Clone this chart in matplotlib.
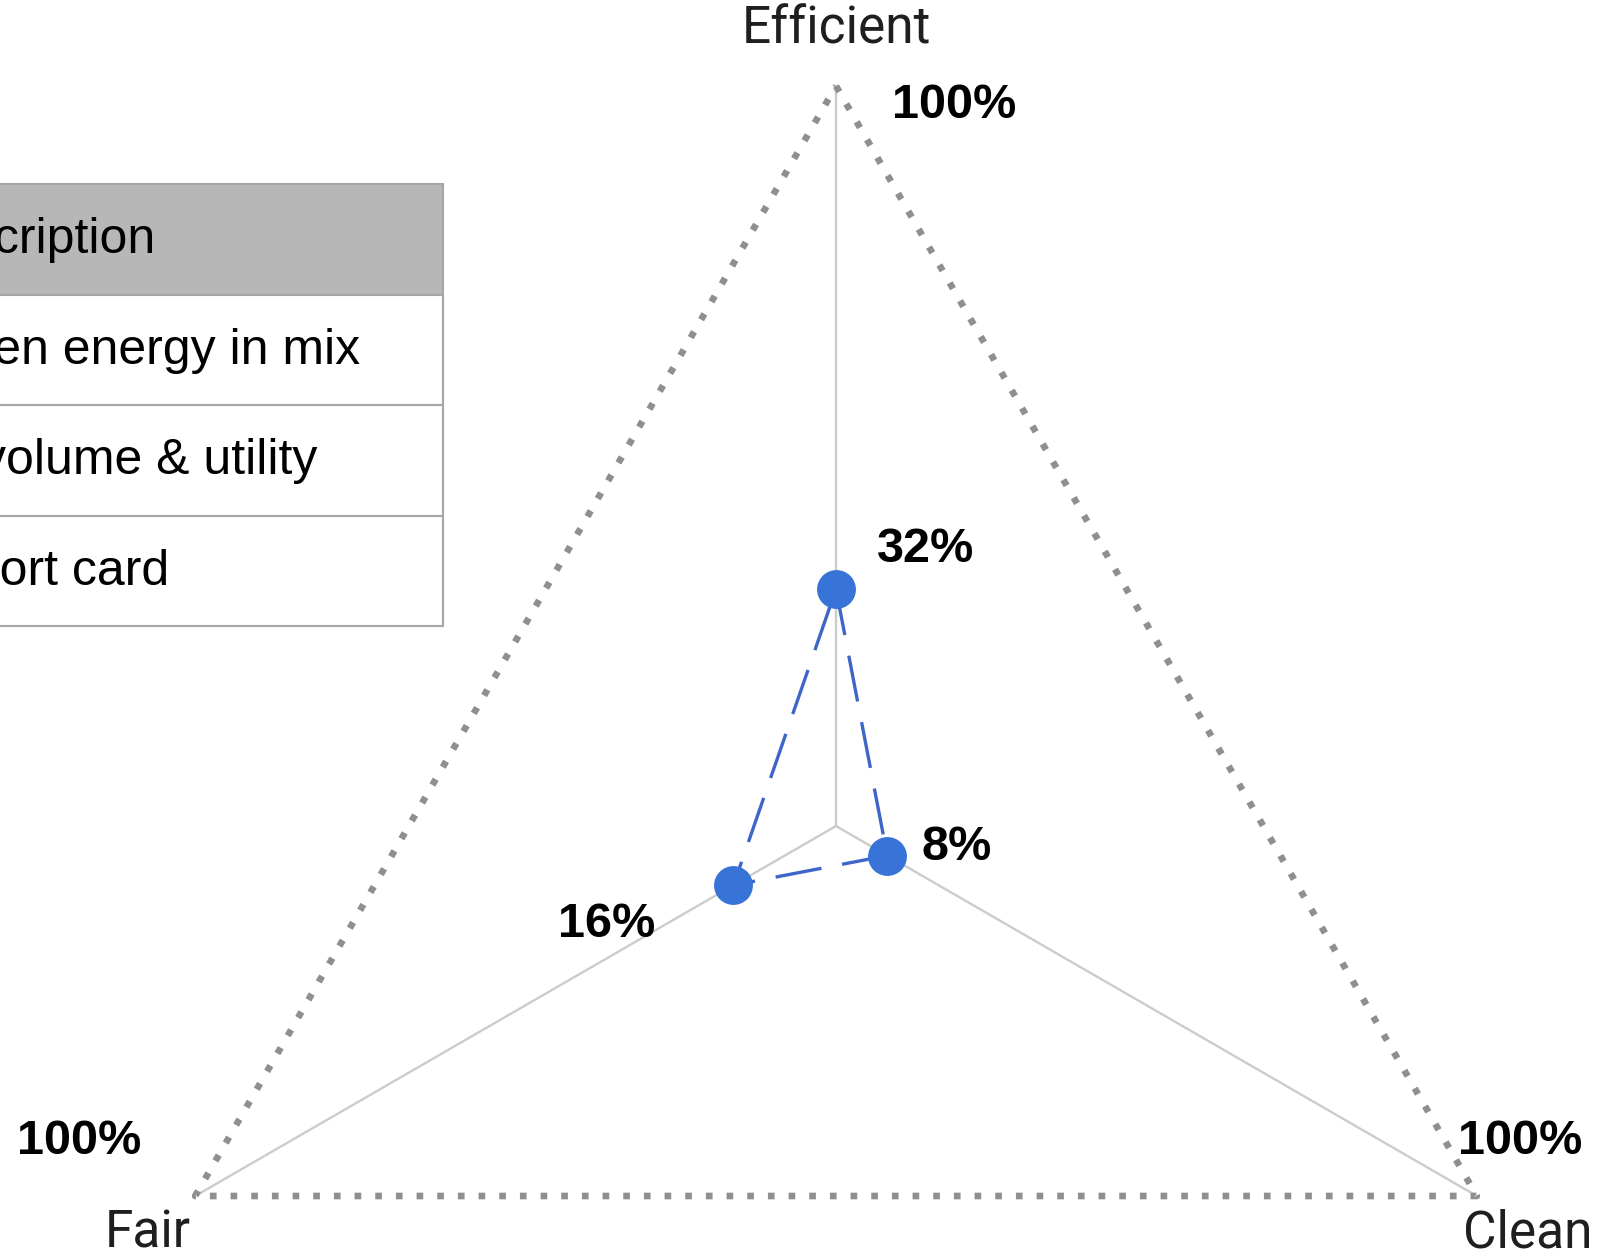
import numpy as np
import matplotlib.pyplot as plt
from matplotlib.patches import Rectangle

# Radar values (percent)
axes_names = ['Efficient', 'Clean', 'Fair']
axes_angles = [90, -30, 210]  # degrees
values = [32, 8, 16]
max_value = 100

# Table rows (left part is cut off in the original picture)
table_header = 'Description'
table_rows = ['Green energy in mix', 'volume & utility', 'Report card']
table_text_x = [-94, -90, -19, -92]

W, H = 1603, 1252
cx, cy, R = 836, 826, 740

fig = plt.figure(figsize=(W / 100, H / 100), dpi=100, facecolor='white')
ax = fig.add_axes([0, 0, 1, 1])
ax.set_xlim(0, W)
ax.set_ylim(H, 0)
ax.axis('off')


def to_xy(angle_deg, v):
    a = np.deg2rad(angle_deg)
    r = R * v / max_value
    return cx + r * np.cos(a), cy - r * np.sin(a)


# axis spokes
for ang in axes_angles:
    x1, y1 = to_xy(ang, max_value)
    ax.plot([cx, x1], [cy, y1], color='#cccccc', lw=1.7, zorder=1)

# outer dotted triangle
outer = [to_xy(a, max_value) for a in axes_angles]
ox = [p[0] for p in outer] + [outer[0][0]]
oy = [p[1] for p in outer] + [outer[0][1]]
ax.plot(ox, oy, color='#8f8f8f', lw=4.8, dashes=(1, 2.1), dash_capstyle='butt', zorder=2)

# data polygon
pts = [to_xy(a, v) for a, v in zip(axes_angles, values)]
px = [p[0] for p in pts] + [pts[0][0]]
py = [p[1] for p in pts] + [pts[0][1]]
ax.plot(px, py, color='#3e66c8', lw=2.4, dashes=(14, 6.3), zorder=3)
ax.plot(px[:-1], py[:-1], 'o', color='#3874d8', ms=28, mec='none', zorder=4)

# axis names
name_style = dict(fontsize=37, family='Roboto', color='#1f1f1f')
ex, ey = to_xy(90, max_value)
ax.text(ex, ey - 56, axes_names[0], ha='center', va='center', **name_style)
clx, cly = to_xy(-30, max_value)
ax.text(clx - 14, cly + 38, axes_names[1], ha='left', va='center', **name_style)
fx, fy = to_xy(210, max_value)
ax.text(fx - 4, fy + 38, axes_names[2], ha='right', va='center', **name_style)

# value labels
val_style = dict(fontsize=35, family='Liberation Sans', fontweight='bold', color='black')
ax.text(ex + 56, ey + 20, f'{max_value}%', ha='left', va='center', **val_style)
ax.text(clx - 19, cly - 54, f'{max_value}%', ha='left', va='center', **val_style)
ax.text(fx - 178, fy - 54, f'{max_value}%', ha='left', va='center', **val_style)
offsets = [(41, -40), (34, -8), (-78, 39)]
for (x, y), v, (dx, dy) in zip(pts, values, offsets):
    ha = 'right' if dx < 0 else 'left'
    ax.text(x + dx, y + dy, f'{v}%', ha=ha, va='center', **val_style)

# table
tbl_top, row_h, tbl_right = 184, 110.5, 443
all_rows = [table_header] + table_rows
for i, label in enumerate(all_rows):
    y0 = tbl_top + i * row_h
    fc = '#b7b7b7' if i == 0 else 'white'
    ax.add_patch(Rectangle((-300, y0), tbl_right + 300, row_h, facecolor=fc,
                           edgecolor='#a6a6a6', lw=1.5, zorder=5))
    ax.text(table_text_x[i], y0 + row_h / 2 + 1, label, ha='left', va='center',
            fontsize=36, family='Liberation Sans', color='black', zorder=6)

plt.savefig('out.png', dpi=100, facecolor='white')
plt.close()
